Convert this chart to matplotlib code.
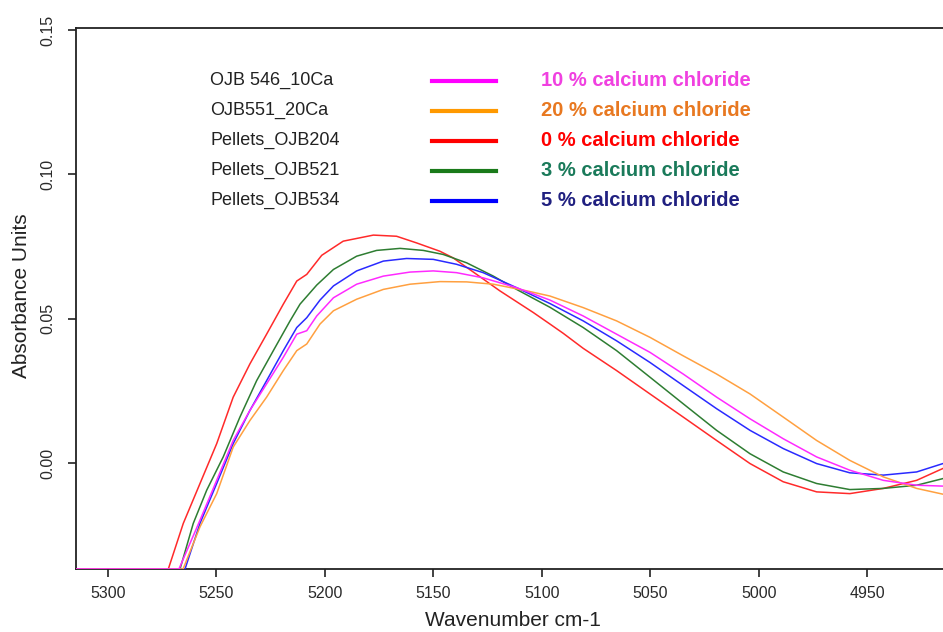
import matplotlib
matplotlib.use("Agg")
import matplotlib.pyplot as plt
from matplotlib.lines import Line2D

plt.rcParams['font.family'] = ['Liberation Sans', 'DejaVu Sans']

# ---------------- data ----------------
red_wn = [5315, 5272.2, 5265.3, 5257.6, 5249.9, 5242.3, 5234.6, 5226.9, 5219.2, 5213.0,
          5208.4, 5201.5, 5191.6, 5177.7, 5167.0, 5157.8, 5147.0, 5140.9, 5130.1, 5119.4,
          5104.0, 5096.3, 5090.2, 5081.0, 5065.6, 5050.2, 5034.9, 5019.5, 5004.1, 4988.8,
          4973.4, 4958.1, 4942.7, 4927.3, 4915.2]
red_abs = [-0.0366, -0.0366, -0.0208, -0.0070, 0.0068, 0.0229, 0.0344, 0.0447, 0.0551, 0.0631,
           0.0654, 0.0720, 0.0769, 0.0790, 0.0786, 0.0763, 0.0734, 0.0711, 0.0654, 0.0597,
           0.0522, 0.0482, 0.0450, 0.0398, 0.0321, 0.0240, 0.0160, 0.0079, -0.0001, -0.0064,
           -0.0099, -0.0105, -0.0087, -0.0059, -0.0018]

green_wn = [5315, 5266.8, 5260.7, 5254.5, 5246.9, 5239.2, 5231.5, 5223.8, 5216.1, 5211.5,
            5203.8, 5196.1, 5185.4, 5176.2, 5165.4, 5154.7, 5145.5, 5134.7, 5122.4, 5111.7,
            5096.3, 5081.0, 5065.6, 5050.2, 5034.9, 5019.5, 5004.1, 4988.8, 4973.4, 4958.1,
            4942.7, 4927.3, 4915.2]
green_abs = [-0.0366, -0.0366, -0.0208, -0.0093, 0.0022, 0.0160, 0.0286, 0.0390, 0.0493, 0.0551,
             0.0617, 0.0671, 0.0717, 0.0737, 0.0744, 0.0737, 0.0723, 0.0694, 0.0648, 0.0602,
             0.0540, 0.0470, 0.0390, 0.0298, 0.0206, 0.0114, 0.0033, -0.0030, -0.0070, -0.0091,
             -0.0087, -0.0076, -0.0053]

blue_wn = [5315, 5264.5, 5257.6, 5249.9, 5242.3, 5234.6, 5226.9, 5219.2, 5213.0, 5208.4,
           5202.3, 5196.1, 5185.4, 5173.1, 5162.4, 5150.1, 5139.4, 5127.1, 5111.7, 5096.3,
           5081.0, 5065.6, 5050.2, 5034.9, 5019.5, 5004.1, 4988.8, 4973.4, 4958.1, 4942.7,
           4927.3, 4915.2]
blue_abs = [-0.0366, -0.0366, -0.0208, -0.0070, 0.0068, 0.0183, 0.0286, 0.0390, 0.0470, 0.0504,
            0.0565, 0.0614, 0.0666, 0.0700, 0.0709, 0.0706, 0.0689, 0.0660, 0.0608, 0.0553,
            0.0493, 0.0424, 0.0349, 0.0269, 0.0189, 0.0114, 0.0051, -0.0001, -0.0033, -0.0041,
            -0.0030, -0.0001]

magenta_wn = [5315, 5267.3, 5257.6, 5249.9, 5242.3, 5234.6, 5226.9, 5219.2, 5213.0, 5208.4,
              5203.8, 5196.1, 5185.4, 5173.1, 5160.8, 5150.1, 5139.4, 5127.1, 5111.7, 5096.3,
              5081.0, 5065.6, 5050.2, 5034.9, 5019.5, 5004.1, 4988.8, 4973.4, 4958.1, 4942.7,
              4927.3, 4915.2]
magenta_abs = [-0.0366, -0.0366, -0.0197, -0.0059, 0.0079, 0.0183, 0.0275, 0.0367, 0.0447, 0.0459,
               0.0510, 0.0573, 0.0620, 0.0648, 0.0662, 0.0666, 0.0660, 0.0642, 0.0608, 0.0565,
               0.0510, 0.0447, 0.0384, 0.0309, 0.0229, 0.0154, 0.0085, 0.0022, -0.0024, -0.0059,
               -0.0076, -0.0079]

orange_wn = [5315, 5265.4, 5257.6, 5249.9, 5242.3, 5234.6, 5226.9, 5219.2, 5213.0, 5208.4,
             5202.3, 5196.1, 5185.4, 5173.1, 5160.8, 5147.0, 5134.7, 5122.4, 5107.0, 5096.3,
             5081.0, 5065.6, 5050.2, 5034.9, 5019.5, 5004.1, 4988.8, 4973.4, 4958.1, 4942.7,
             4927.3, 4915.2]
orange_abs = [-0.0366, -0.0366, -0.0220, -0.0105, 0.0056, 0.0148, 0.0229, 0.0321, 0.0390, 0.0413,
              0.0482, 0.0528, 0.0568, 0.0602, 0.0620, 0.0629, 0.0628, 0.0620, 0.0597, 0.0579,
              0.0539, 0.0493, 0.0436, 0.0372, 0.0309, 0.0240, 0.0160, 0.0079, 0.0010, -0.0047,
              -0.0087, -0.0107]

sample_names = ["OJB 546_10Ca", "OJB551_20Ca", "Pellets_OJB204", "Pellets_OJB521", "Pellets_OJB534"]
conc_labels = ["10 % calcium chloride", "20 % calcium chloride", "0 % calcium chloride",
               "3 % calcium chloride", "5 % calcium chloride"]
legend_line_colors = ["#FF00FF", "#FF9900", "#FF0000", "#1A7A1A", "#0000FF"]
legend_text_colors = ["#F040E0", "#E87820", "#FF0000", "#1A7A5A", "#202080"]

x_ticks = [5300, 5250, 5200, 5150, 5100, 5050, 5000, 4950]
y_ticks = [0.00, 0.05, 0.10, 0.15]

# ---------------- figure ----------------
W, H = 943, 632
fig = plt.figure(figsize=(W / 100, H / 100), dpi=100)
fig.patch.set_facecolor("white")

L, R, T, B = 76, 944, 28, 569
ax = fig.add_axes([L / W, 1 - B / H, (R - L) / W, (B - T) / H])

series = [
    (red_wn, red_abs, "#FF2A2A"),
    (green_wn, green_abs, "#2E7D32"),
    (blue_wn, blue_abs, "#2A2AFF"),
    (orange_wn, orange_abs, "#FFA040"),
    (magenta_wn, magenta_abs, "#FF2AFF"),
]
for wn, ab, c in series:
    ax.plot(wn, ab, color=c, lw=1.1, solid_joinstyle="round", zorder=3)

ax.set_xlim(5314.75, 4914.7)
ax.set_ylim(-0.0366, 0.1507)

ax.set_xticks(x_ticks)
ax.set_xticklabels([str(v) for v in x_ticks])
ax.set_yticks(y_ticks)
ax.set_yticklabels(["%.2f" % v for v in y_ticks], rotation=90, va="center")

ax.tick_params(axis="x", direction="out", length=6, width=1.2, pad=6,
               labelsize=11.5, labelcolor="#2a2a2a", color="#222222")
ax.tick_params(axis="y", direction="out", length=6, width=1.2, pad=9,
               labelsize=11.5, labelcolor="#2a2a2a", color="#222222")

for s in ["left", "bottom", "top"]:
    ax.spines[s].set_linewidth(1.3)
    ax.spines[s].set_color("#222222")
ax.spines["right"].set_visible(False)

fig.text(22 / W, 1 - 296 / H, "Absorbance Units", rotation=90, ha="center", va="center",
         fontsize=15, color="#222222")
fig.text(513 / W, 1 - 620 / H, "Wavenumber cm-1", ha="center", va="center",
         fontsize=15, color="#222222")

# legend-like annotation block
for i in range(len(sample_names)):
    yc = 80.5 + 30 * i
    fig.text(210 / W, 1 - yc / H, sample_names[i], ha="left", va="center",
             fontsize=13, color="#222222")
    fig.add_artist(Line2D([432 / W, 496 / W], [1 - yc / H, 1 - yc / H],
                          color=legend_line_colors[i], lw=3, transform=fig.transFigure))
    fig.text(541 / W, 1 - yc / H, conc_labels[i], ha="left", va="center",
             fontsize=14.5, fontweight="bold", color=legend_text_colors[i])

fig.savefig("out.png", dpi=100, facecolor="white")
